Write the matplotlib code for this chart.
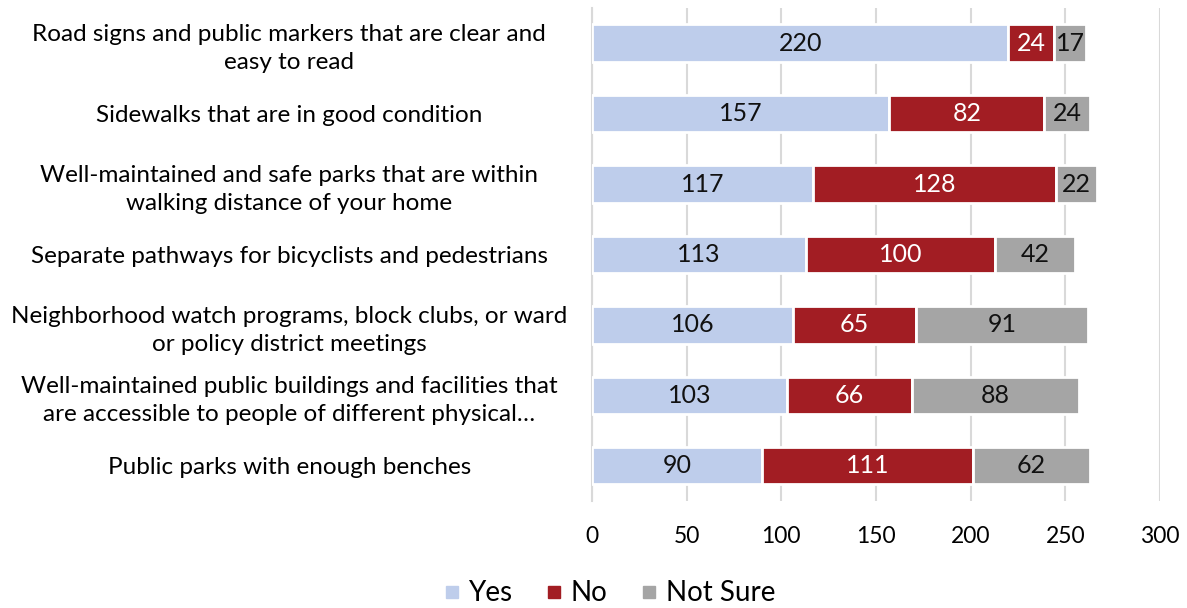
import matplotlib.pyplot as plt
from matplotlib.lines import Line2D
import numpy as np

plt.rcParams['font.family'] = ['Lato', 'DejaVu Sans']

categories = [
    "Road signs and public markers that are clear and\neasy to read",
    "Sidewalks that are in good condition",
    "Well-maintained and safe parks that are within\nwalking distance of your home",
    "Separate pathways for bicyclists and pedestrians",
    "Neighborhood watch programs, block clubs, or ward\nor policy district meetings",
    "Well-maintained public buildings and facilities that\nare accessible to people of different physical\u2026",
    "Public parks with enough benches",
]
yes = [220, 157, 117, 113, 106, 103, 90]
no = [24, 82, 128, 100, 65, 66, 111]
not_sure = [17, 24, 22, 42, 91, 88, 62]
series_names = ["Yes", "No", "Not Sure"]
colors = ["#BECDEB", "#A21D23", "#A5A5A5"]
text_colors = ["#111111", "white", "#111111"]

fig = plt.figure(figsize=(11.87, 6.08), dpi=100)
ax = fig.add_axes([0.4987, 0.176, 0.4785, 0.811])

y = np.arange(len(categories))
left = np.zeros(len(categories))
for vals, name, c, tc in zip([yes, no, not_sure], series_names, colors, text_colors):
    vals = np.array(vals)
    bars = ax.barh(y, vals, left=left, height=0.53, color=c, edgecolor="white",
                   linewidth=2, label=name, zorder=3)
    for b, v in zip(bars, vals):
        ax.text(b.get_x() + b.get_width() / 2, b.get_y() + b.get_height() / 2, str(v),
                ha="center", va="center", color=tc, fontsize=18, zorder=4)
    left += vals

ax.set_ylim(len(categories) - 0.5, -0.5)
ax.set_xlim(0, 300)
ax.set_xticks(range(0, 301, 50))
ax.set_yticks(y)
ax.set_yticklabels(categories, fontsize=17.5, ha="center", multialignment="center",
                   linespacing=1.4)
ax.tick_params(axis="y", length=0, pad=218)
ax.tick_params(axis="x", length=0, labelsize=16.5, pad=18)
ax.grid(axis="x", color="#D9D9D9", linewidth=1.5, zorder=0)
for s in ["top", "right", "bottom"]:
    ax.spines[s].set_visible(False)
ax.spines["left"].set_color("#D9D9D9")
ax.spines["left"].set_linewidth(1.5)

handles = [Line2D([], [], marker="s", linestyle="", color=c, markersize=8) for c in colors]
fig.legend(handles, series_names, loc="center", bbox_to_anchor=(0.511, 0.024), ncol=3,
           frameon=False, fontsize=20, handletextpad=0.1, columnspacing=1.0, handlelength=1.0)

fig.savefig("out.png", dpi=100)
